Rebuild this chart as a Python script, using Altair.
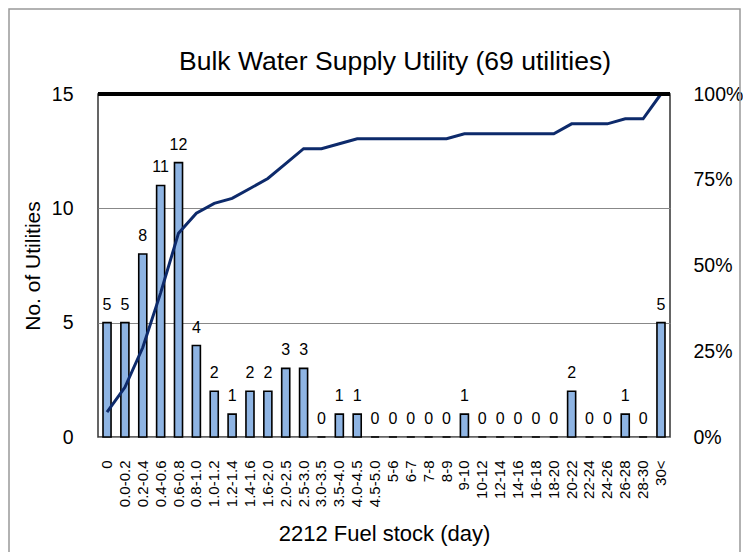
import altair as alt
import pandas as pd

categories = ["0", "0.0-0.2", "0.2-0.4", "0.4-0.6", "0.6-0.8", "0.8-1.0", "1.0-1.2",
              "1.2-1.4", "1.4-1.6", "1.6-2.0", "2.0-2.5", "2.5-3.0", "3.0-3.5",
              "3.5-4.0", "4.0-4.5", "4.5-5.0", "5-6", "6-7", "7-8", "8-9", "9-10",
              "10-12", "12-14", "14-16", "16-18", "18-20", "20-22", "22-24",
              "24-26", "26-28", "28-30", "30<"]
counts = [5, 5, 8, 11, 12, 4, 2, 1, 2, 2, 3, 3, 0, 1, 1, 0, 0, 0, 0, 0, 1,
          0, 0, 0, 0, 0, 2, 0, 0, 1, 0, 5]
title_text = "Bulk Water Supply Utility (69 utilities)"

total = sum(counts)
cum = []
run = 0
for c in counts:
    run += c
    cum.append(run / total)

df = pd.DataFrame({"cat": categories, "count": counts, "cum": cum})

FONT = "Liberation Sans"
W, H = 572, 343

xenc = alt.X("cat:N", sort=categories, title="2212 Fuel stock (day)",
             scale=alt.Scale(paddingInner=0.55, paddingOuter=0.28),
             axis=alt.Axis(labelAngle=270, labelFontSize=15, labelFont=FONT,
                           labelColor="#000", ticks=False, domain=False,
                           labelPadding=23, titleFontSize=22, titleFont=FONT,
                           titleFontWeight="normal", titleColor="#000",
                           titlePadding=17))

yleft = alt.Y("count:Q", title="No. of Utilities",
              scale=alt.Scale(domain=[0, 15], nice=False),
              axis=alt.Axis(values=[0, 5, 10, 15], ticks=False, domain=False,
                            labelFontSize=19.5, labelFont=FONT, labelColor="#000",
                            labelPadding=25, grid=True, gridColor="#888",
                            gridWidth=1.2, titleFontSize=21, titleFont=FONT,
                            titleFontWeight="normal", titleColor="#000",
                            titlePadding=8))

base = alt.Chart(df)

frame = alt.Chart(pd.DataFrame({"t": [title_text]})).mark_rect(
    fill=None, stroke="#999", strokeWidth=1.5).encode(
    x=alt.value(-89), x2=alt.value(642), y=alt.value(-85), y2=alt.value(480))

title = alt.Chart(pd.DataFrame({"t": [title_text]})).mark_text(
    fontSize=26.5, font=FONT, color="#000", align="center", baseline="middle").encode(
    x=alt.value(297), y=alt.value(-32), text="t:N")

bars = base.mark_bar(fill="#8EB4E3", stroke="#000", strokeWidth=1.6).encode(
    x=xenc, y=yleft)

labels = base.mark_text(fontSize=16, font=FONT, color="#000",
                        baseline="alphabetic", dy=-13).encode(
    x=alt.X("cat:N", sort=categories),
    y=alt.Y("count:Q", scale=alt.Scale(domain=[0, 15], nice=False)),
    text="count:Q")

left = alt.layer(bars, labels)

line = base.mark_line(color="#0D2A6B", strokeWidth=3).encode(
    x=alt.X("cat:N", sort=categories),
    y=alt.Y("cum:Q", title=None,
            scale=alt.Scale(domain=[0, 1], nice=False),
            axis=alt.Axis(orient="right", format=".0%", values=[0, 0.25, 0.5, 0.75, 1],
                          ticks=False, domain=False, grid=False,
                          labelFontSize=19.5, labelFont=FONT, labelColor="#000",
                          labelPadding=23)))

top = alt.Chart(df).mark_rule(color="#000", strokeWidth=3).encode(
    x=alt.value(0), x2=alt.value(W), y=alt.value(0))

chart = alt.layer(frame, title, left, line, top).resolve_scale(y="independent").properties(
    width=W, height=H,
    autosize=alt.AutoSizeParams(type="none"),
    padding={"left": 90, "top": 86, "right": 73, "bottom": 115},
).configure_view(stroke="#333", strokeWidth=1.5)

chart.save("out.html", embed_options={"renderer": "svg", "actions": False})
